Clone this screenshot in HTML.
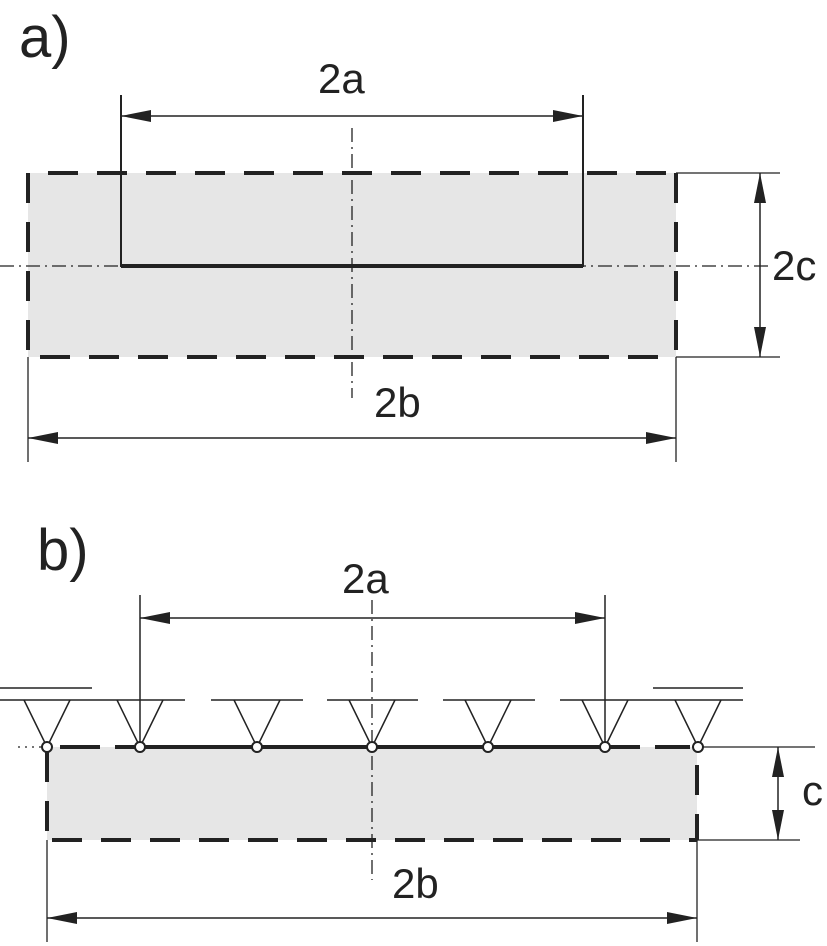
<!DOCTYPE html>
<html><head><meta charset="utf-8"><style>html,body{margin:0;padding:0;background:#fff}svg{display:block}</style></head>
<body>
<svg width="827" height="946" viewBox="0 0 827 946" xmlns="http://www.w3.org/2000/svg" font-family="Liberation Sans, sans-serif" fill="#222">
<defs>
<marker id="ar" viewBox="0 0 30 12" refX="30" refY="6" markerWidth="30" markerHeight="12" markerUnits="userSpaceOnUse" orient="auto-start-reverse"><path d="M0,0 L30,6 L0,12 Z" fill="#222"/></marker>
</defs>
<g stroke="#222" fill="none">
<!-- a) -->
<rect x="28" y="173" width="648" height="184" fill="#e6e6e6" stroke="none"/>
<line x1="0" y1="266" x2="770" y2="266" stroke-width="1.3" stroke-dasharray="14,5,2,5"/>
<line x1="352" y1="128" x2="352" y2="398" stroke-width="1.3" stroke-dasharray="14,5,2,5"/>
<g stroke-width="4" stroke-dasharray="30,19">
<line x1="48" y1="173" x2="676" y2="173"/>
<line x1="40" y1="357" x2="676" y2="357"/>
<line x1="28" y1="173" x2="28" y2="357"/>
<line x1="676" y1="173" x2="676" y2="357"/>
</g>
<polyline points="121,95 121,266 583,266 583,95" stroke-width="2"/>
<line x1="121" y1="266" x2="583" y2="266" stroke-width="4"/>
<line x1="121" y1="116" x2="583" y2="116" stroke-width="1.5" marker-start="url(#ar)" marker-end="url(#ar)"/>
<line x1="676" y1="173" x2="780" y2="173" stroke-width="1.3"/>
<line x1="676" y1="357" x2="780" y2="357" stroke-width="1.3"/>
<line x1="760" y1="173" x2="760" y2="357" stroke-width="1.5" marker-start="url(#ar)" marker-end="url(#ar)"/>
<line x1="28" y1="357" x2="28" y2="462" stroke-width="1.3"/>
<line x1="676" y1="357" x2="676" y2="462" stroke-width="1.3"/>
<line x1="28" y1="438" x2="676" y2="438" stroke-width="1.5" marker-start="url(#ar)" marker-end="url(#ar)"/>
<!-- b) -->
<rect x="47" y="747" width="650" height="93" fill="#e6e6e6" stroke="none"/>
<line x1="18" y1="747" x2="47" y2="747" stroke-width="1.3" stroke-dasharray="2,5"/>
<line x1="372" y1="600" x2="372" y2="880" stroke-width="1.3" stroke-dasharray="14,5,2,5"/>
<g stroke-width="4" stroke-dasharray="30,19">
<line x1="52" y1="840" x2="697" y2="840"/>
<line x1="47" y1="752" x2="47" y2="840"/>
<line x1="697" y1="765" x2="697" y2="840"/>
<line x1="60" y1="747" x2="140" y2="747" stroke-dasharray="40,15"/>
<line x1="605" y1="747" x2="697" y2="747" stroke-dasharray="35,15"/>
</g>
<line x1="140" y1="747" x2="605" y2="747" stroke-width="4"/>
<line x1="697" y1="747" x2="815" y2="747" stroke-width="1.3"/>
<line x1="697" y1="840" x2="800" y2="840" stroke-width="1.3"/>
<line x1="778" y1="747" x2="778" y2="840" stroke-width="1.5" marker-start="url(#ar)" marker-end="url(#ar)"/>
<g stroke-width="1.5">
<line x1="0" y1="700" x2="185" y2="700"/>
<line x1="211" y1="700" x2="303" y2="700"/>
<line x1="327" y1="700" x2="418" y2="700"/>
<line x1="443" y1="700" x2="535" y2="700"/>
<line x1="560" y1="700" x2="743" y2="700"/>
<line x1="0" y1="688" x2="92" y2="688"/>
<line x1="653" y1="688" x2="743" y2="688"/>
<polyline points="24,700 47,747 70,700"/>
<polyline points="117,700 140,747 163,700"/>
<polyline points="234,700 257,747 280,700"/>
<polyline points="349,700 372,747 395,700"/>
<polyline points="465,700 488,747 511,700"/>
<polyline points="582,700 605,747 628,700"/>
<polyline points="675,700 698,747 721,700"/>
</g>
<line x1="140" y1="595" x2="140" y2="747" stroke-width="1.5"/>
<line x1="605" y1="595" x2="605" y2="747" stroke-width="1.5"/>
<line x1="140" y1="618" x2="605" y2="618" stroke-width="1.5" marker-start="url(#ar)" marker-end="url(#ar)"/>
<g fill="#fff" stroke-width="2">
<circle cx="47" cy="747" r="5"/><circle cx="140" cy="747" r="5"/><circle cx="257" cy="747" r="5"/><circle cx="372" cy="747" r="5"/><circle cx="488" cy="747" r="5"/><circle cx="605" cy="747" r="5"/><circle cx="698" cy="747" r="5"/>
</g>
<line x1="47" y1="840" x2="47" y2="942" stroke-width="1.3"/>
<line x1="697" y1="840" x2="697" y2="942" stroke-width="1.3"/>
<line x1="47" y1="918" x2="697" y2="918" stroke-width="1.5" marker-start="url(#ar)" marker-end="url(#ar)"/>
</g>
<g font-size="42">
<text x="19" y="57" font-size="58">a)</text>
<text x="318" y="93">2a</text>
<text x="772" y="280">2c</text>
<text x="374" y="417">2b</text>
<text x="37" y="570" font-size="58">b)</text>
<text x="342" y="593">2a</text>
<text x="802" y="805">c</text>
<text x="392" y="898">2b</text>
</g>
</svg>
</body></html>
